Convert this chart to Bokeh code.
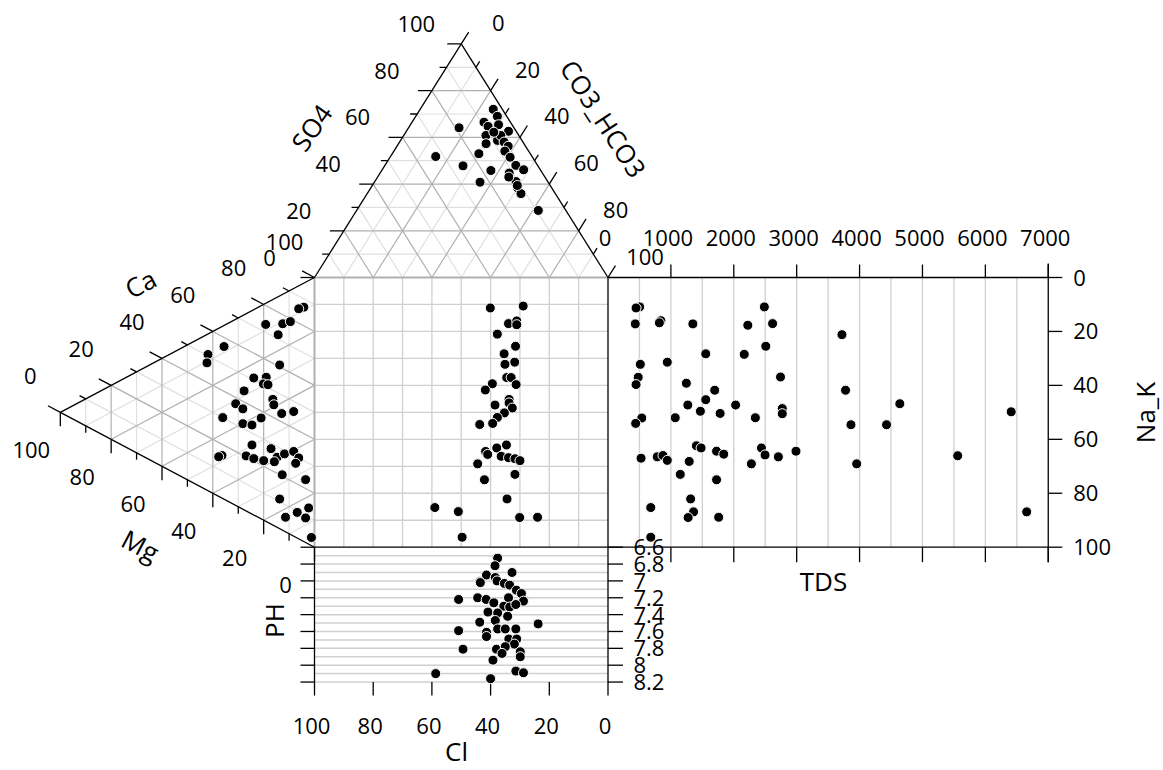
import numpy as np
from bokeh.plotting import figure
from bokeh.models import Range1d
from bokeh.core.properties import value
from bokeh.embed import file_html
from bokeh.resources import INLINE

# ---------------------------------------------------------------- samples
# Anion triangle (% meq): SO4 and CO3+HCO3, Cl is the remainder
anion_so4 = [72.0, 69.0, 66.5, 64.7, 65.4, 62.6, 64.1, 60.8, 57.3, 58.7, 60.8, 58.0, 56.2, 51.8,
             53.0, 54.1, 51.5, 47.8, 48.0, 45.8, 44.7, 46.1, 40.8, 41.1, 38.4, 35.9, 28.7, 62.2,
             43.0, 39.4]
anion_co3 = [24.9, 27.8, 24.5, 26.8, 30.0, 34.8, 17.2, 28.0, 29.8, 33.0, 33.1, 35.6, 37.9, 15.4,
             29.5, 37.8, 40.9, 26.7, 44.6, 37.2, 44.0, 48.2, 36.0, 48.1, 50.0, 52.4, 61.9, 30.0,
             44.7, 49.4]

# Cation triangle (% meq): Ca and Mg, Na+K is the remainder
cation_ca = [86.9, 85.3, 73.0, 76.6, 78.9, 71.6, 56.6, 50.5, 47.2, 60.7, 50.8, 53.5, 50.5, 51.1,
             44.1, 46.6, 44.8, 37.7, 37.2, 43.1, 46.2, 30.0, 31.7, 33.0, 37.4, 25.6, 15.8, 14.7,
             20.4, 20.9, 22.1, 28.0, 26.0, 23.8, 28.7, 31.4, 30.0, 27.4, 20.5, 23.3, 11.0, 5.4,
             9.5, 13.4, 9.1, 3.0]
cation_mg = [4.2, 6.2, 19.2, 12.5, 9.5, 14.3, 35.6, 41.9, 42.3, 13.7, 23.9, 19.0, 20.1, 18.3,
             27.7, 16.4, 16.0, 31.0, 28.2, 12.9, 8.2, 36.1, 28.2, 24.6, 21.0, 24.6, 36.4, 37.7,
             26.9, 23.9, 20.0, 17.1, 14.7, 15.8, 11.8, 8.2, 6.2, 7.4, 12.7, 3.5, 13.7, 11.4,
             6.8, 2.3, 3.5, 1.2]

# Central square: Cl against Na+K
square_cl = [40.1, 28.9, 33.9, 31.1, 31.1, 37.7, 31.5, 35.4, 31.8, 35.1, 34.5, 33.0, 39.4, 31.3,
             41.8, 33.7, 33.7, 38.5, 32.6, 35.3, 37.7, 39.3, 43.7, 34.6, 37.9, 41.7, 41.0, 36.4,
             33.9, 31.7, 30.0, 44.4, 31.7, 42.1, 34.4, 59.0, 51.0, 30.1, 24.0, 49.7]
square_nak = [11.3, 10.6, 17.1, 16.1, 17.5, 21.0, 25.5, 28.3, 31.4, 32.2, 37.1, 37.1, 39.4, 39.7,
              41.7, 45.2, 46.5, 47.3, 48.4, 50.2, 51.9, 54.1, 54.5, 62.1, 63.2, 64.5, 65.6, 66.3,
              66.8, 67.2, 67.9, 69.1, 73.0, 75.0, 82.1, 85.3, 86.8, 89.0, 88.9, 96.3]

# TDS panel: TDS against Na+K
tds_value = [503, 446, 2486, 434, 840, 817, 1349, 2223, 2617, 3720, 2509, 1554, 2166, 514, 943,
             480, 446, 2743, 1246, 1697, 3777, 1554, 1269, 2029, 4640, 1469, 1783, 2771, 2771,
             6411, 537, 440, 1069, 2343, 3863, 4429, 1406, 1480, 2440, 1726, 1840, 2989, 526,
             783, 874, 943, 1291, 2497, 2709, 2280, 3954, 5560, 1149, 1726, 1314, 680, 1360,
             1274, 1760, 6657, 680]
tds_nak = [10.9, 11.3, 10.9, 17.2, 16.0, 16.8, 17.2, 17.7, 17.1, 21.2, 25.5, 28.3, 28.5, 32.2,
           31.4, 37.0, 39.7, 36.9, 39.2, 41.8, 41.8, 45.3, 47.3, 47.3, 46.8, 49.6, 50.4, 48.6,
           50.5, 49.8, 52.1, 54.1, 52.0, 52.0, 54.6, 54.6, 62.4, 63.2, 63.2, 64.4, 65.5, 64.4,
           67.0, 66.5, 66.0, 67.8, 68.2, 65.8, 66.5, 69.1, 69.1, 66.1, 73.0, 75.0, 82.1, 85.3,
           86.9, 89.0, 88.9, 86.9, 96.3]

# pH panel: Cl against pH
ph_cl = [37.6, 38.5, 32.7, 41.4, 38.4, 43.7, 43.5, 37.8, 35.3, 33.5, 31.2, 29.5, 50.9, 44.4,
         41.5, 33.9, 28.8, 38.9, 35.5, 33.5, 31.4, 40.9, 37.6, 34.2, 43.7, 38.4, 23.8, 50.9,
         37.6, 35.0, 31.4, 41.4, 41.4, 33.8, 31.1, 31.9, 49.4, 38.0, 35.0, 36.1, 29.9, 29.9,
         39.2, 58.7, 31.4, 28.8, 40.0]
ph_value = [6.73, 6.82, 6.90, 6.93, 6.96, 7.01, 7.02, 7.00, 7.03, 7.05, 7.11, 7.15, 7.22, 7.20,
            7.22, 7.20, 7.24, 7.26, 7.30, 7.31, 7.28, 7.37, 7.38, 7.42, 7.49, 7.47, 7.51, 7.59,
            7.57, 7.57, 7.57, 7.61, 7.66, 7.69, 7.69, 7.75, 7.81, 7.81, 7.78, 7.86, 7.84, 7.90,
            7.94, 8.10, 8.07, 8.09, 8.16]

# axis ticks
pct_ticks = [0, 10, 20, 30, 40, 50, 60, 70, 80, 90, 100]
pct_labels = [0, 20, 40, 60, 80, 100]
tds_ticks = [0, 1000, 2000, 3000, 4000, 5000, 6000, 7000]
nak_labels = [0, 20, 40, 60, 80, 100]
ph_ticks = [6.6, 6.8, 7.0, 7.2, 7.4, 7.6, 7.8, 8.0, 8.2]
ph_tick_text = ["6.6", "6.8", "7", "7.2", "7.4", "7.6", "7.8", "8", "8.2"]

# ---------------------------------------------------------------- geometry
W, H = 1163, 770
X0, Y0 = 314.0, 277.0          # screen position of the square's top-left corner
XS, YS = 2.935, 2.697          # screen pixels per diagram unit
TDS_MAX, TDS_W = 7000.0, 150.0
PH_MIN, PH_MAX, PH_H = 6.6, 8.2, 50.0
S3 = np.sqrt(3) / 2


def arr(v):
    return np.asarray(v, dtype=float)


def top_xy(so4, co3):
    so4, co3 = arr(so4), arr(co3)
    return co3 + 0.5 * so4, -S3 * so4


def left_xy(ca, mg):
    ca, mg = arr(ca), arr(mg)
    nak = 100.0 - ca - mg
    return -S3 * mg, nak + 0.5 * mg


def square_xy(cl, nak):
    return 100.0 - arr(cl), arr(nak)


def tds_xy(tds, nak):
    return 100.0 + arr(tds) / TDS_MAX * TDS_W, arr(nak)


def ph_xy(cl, ph):
    return 100.0 - arr(cl), 100.0 + (arr(ph) - PH_MIN) / (PH_MAX - PH_MIN) * PH_H


def shift(xy, dx, dy):
    """Move a diagram point by a screen-pixel offset."""
    return xy[0] + dx / XS, xy[1] + dy / YS


def screen(x, y):
    return (x - X0) / XS, (y - Y0) / YS


def unit_dir(a, b):
    """Screen-space unit vector from diagram point a to b."""
    dx, dy = (b[0] - a[0]) * XS, (b[1] - a[1]) * YS
    n = np.hypot(dx, dy)
    return dx / n, dy / n


p = figure(width=W, height=H, x_range=Range1d(-X0 / XS, (W - X0) / XS),
           y_range=Range1d((H - Y0) / YS, -Y0 / YS),
           x_axis_location=None, y_axis_location=None,
           toolbar_location=None, output_backend="svg", min_border=0)
p.grid.visible = False
p.outline_line_color = None
p.background_fill_color = "white"
p.border_fill_color = "white"

FONT = value("Open Sans")
DARK, LIGHT, GRID = "#b0b0b0", "#e0e0e0", "#d0d0d0"

lines = {}


def seg(color, width, a, b):
    key = (color, width)
    lines.setdefault(key, ([], [], [], []))
    L = lines[key]
    L[0].append(float(a[0])); L[1].append(float(a[1]))
    L[2].append(float(b[0])); L[3].append(float(b[1]))


# ---- triangle grids
for k in pct_ticks[1:-1]:
    c = DARK if k % 20 == 0 else LIGHT
    seg(c, 1.2, top_xy(k, 0), top_xy(k, 100 - k))
    seg(c, 1.2, top_xy(0, k), top_xy(100 - k, k))
    seg(c, 1.2, top_xy(0, 100 - k), top_xy(100 - k, 0))
    seg(c, 1.2, left_xy(100 - k, k), left_xy(0, k))
    seg(c, 1.2, left_xy(k, 100 - k), left_xy(k, 0))
    seg(c, 1.2, left_xy(100 - k, 0), left_xy(0, 100 - k))
    # square grid
    seg(GRID, 1.3, (100 - k, 0), (100 - k, 100))
    seg(GRID, 1.3, (0, k), (100, k))

# ---- TDS panel grid
for t in np.arange(500, 7000, 500):
    x, _ = tds_xy(t, 0)
    seg(GRID, 1.3, (x, 0), (x, 100))

# ---- pH panel grid
for ph in np.arange(6.7, 8.25, 0.1):
    _, y = ph_xy(0, ph)
    seg(GRID, 1.5, (0, y), (100, y))

# ---- shared edges (grey) and outer frame (black)
seg(DARK, 2, top_xy(0, 0), top_xy(0, 100))
seg(DARK, 2, left_xy(100, 0), left_xy(0, 0))

BLK = "black"
seg(BLK, 1.3, top_xy(0, 0), top_xy(100, 0))
seg(BLK, 1.3, top_xy(0, 100), top_xy(100, 0))
seg(BLK, 1.3, left_xy(100, 0), left_xy(0, 100))
seg(BLK, 1.3, left_xy(0, 0), left_xy(0, 100))
seg(BLK, 1.3, (100, 0), (100, 100))
seg(BLK, 1.3, (0, 100), (100, 100))
tx_end, _ = tds_xy(TDS_MAX, 0)
seg(BLK, 1.3, (100, 0), (tx_end, 0))
seg(BLK, 1.3, (100, 100), (tx_end, 100))
seg(BLK, 1.3, shift((tx_end, 0), 0, -14), shift((tx_end, 100), 0, 15))
_, ph_bot = ph_xy(0, PH_MAX)
seg(BLK, 1.3, (0, 100), shift((0, ph_bot), 0, 13.5))
seg(BLK, 1.3, (100, 100), shift((100, ph_bot), 0, 13.5))

# ---- ternary ticks
so4_dir = (-1.0, 0.0)
co3_dir = unit_dir(top_xy(0, 0), top_xy(100, 0))
ca_dir = unit_dir(left_xy(0, 0), left_xy(0, 100))
mg_dir = (0.0, 1.0)
for k in pct_ticks:
    L = 14 if k % 20 == 0 else 7
    for base, d in ((top_xy(k, 0), so4_dir), (top_xy(100 - k, k), co3_dir),
                    (left_xy(k, 100 - k), ca_dir), (left_xy(0, k), mg_dir)):
        seg(BLK, 1.3, base, shift(base, d[0] * L, d[1] * L))

# ---- cartesian ticks
for t in tds_ticks[1:]:
    x, _ = tds_xy(t, 0)
    seg(BLK, 1.3, (x, 0), shift((x, 0), 0, -13))
    seg(BLK, 1.3, (x, 100), shift((x, 100), 0, 15))
for n in nak_labels:
    seg(BLK, 1.3, (tx_end, n), shift((tx_end, n), 14, 0))
for ph in ph_ticks:
    _, y = ph_xy(0, ph)
    seg(BLK, 1.3, (0, y), shift((0, y), -14, 0))
    seg(BLK, 1.3, (100, y), shift((100, y), 15, 0))
for cl in pct_labels[1:-1]:
    x, _ = square_xy(cl, 0)
    seg(BLK, 1.3, (x, ph_bot), shift((x, ph_bot), 0, 13.5))

for (color, width), (x0, y0, x1, y1) in lines.items():
    p.segment(x0=x0, y0=y0, x1=x1, y1=y1, line_color=color, line_width=width)


# ---- tick labels
def labels(pts, texts, size="22px", align="center", angle=0.0):
    xs = [float(q[0]) for q in pts]
    ys = [float(q[1]) for q in pts]
    p.text(x=xs, y=ys, text=[str(t) for t in texts], text_font=FONT, text_font_size=size,
           text_align=align, text_baseline="middle", angle=angle, text_color="black")


labels([shift(top_xy(v, 0), -45, -20) for v in pct_labels], pct_labels)
labels([shift(top_xy(100 - v, v), 37, -21) for v in pct_labels], pct_labels)
labels([shift(left_xy(v, 100 - v), -30, -36) for v in pct_labels], pct_labels)
labels([shift(left_xy(0, v), -29, 38) for v in pct_labels], pct_labels)
labels([shift((100 - v, ph_bot), -3, 43.5) for v in pct_labels], pct_labels)
labels([shift((tds_xy(t, 0)[0], 0), -3, -40) for t in tds_ticks], tds_ticks)
labels([shift((tx_end, n), 25, 0) for n in nak_labels], nak_labels, align="left")
labels([shift((100, ph_xy(0, v)[1]), 25.5, 0) for v in ph_ticks], ph_tick_text, align="left")

# ---- axis titles
TS = "26px"
labels([screen(311, 127)], ["SO4"], size=TS, angle=np.radians(55))
labels([screen(603, 118)], ["CO3_HCO3"], size=TS, angle=np.radians(-57))
labels([screen(140, 283)], ["Ca"], size=TS, angle=np.radians(28))
labels([screen(140, 545)], ["Mg"], size=TS, angle=np.radians(-28))
labels([screen(456, 750)], ["Cl"], size=TS)
labels([screen(273, 620)], ["PH"], size=TS, angle=np.radians(90))
labels([screen(823, 580)], ["TDS"], size=TS)
labels([screen(1144, 412)], ["Na_K"], size=TS, angle=np.radians(90))

# ---- samples
MK = dict(size=10, fill_color="black", line_color="white", line_width=1)
for x, y in (top_xy(anion_so4, anion_co3), left_xy(cation_ca, cation_mg),
             square_xy(square_cl, square_nak), tds_xy(tds_value, tds_nak),
             ph_xy(ph_cl, ph_value)):
    p.scatter(x=x, y=y, **MK)

open("out.html", "w").write(file_html(p, INLINE))
